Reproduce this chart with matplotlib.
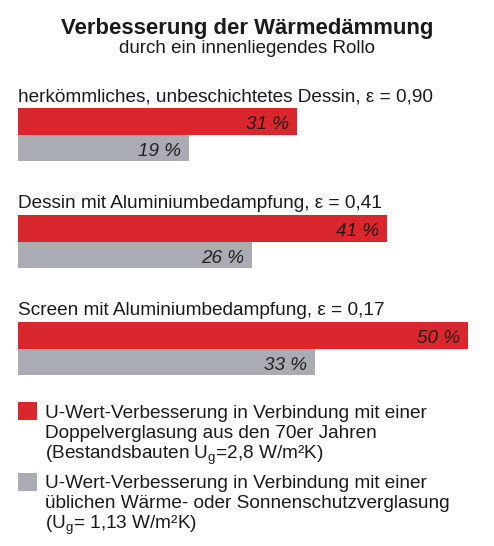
import matplotlib
matplotlib.use("Agg")
import matplotlib.pyplot as plt
from matplotlib.patches import Rectangle

plt.rcParams['font.family'] = ['Liberation Sans', 'DejaVu Sans']
plt.rcParams['mathtext.fontset'] = 'custom'
plt.rcParams['mathtext.rm'] = 'Liberation Sans'
plt.rcParams['mathtext.it'] = 'Liberation Sans:italic'

# data
categories = [
    'herkömmliches, unbeschichtetes Dessin, ε = 0,90',
    'Dessin mit Aluminiumbedampfung, ε = 0,41',
    'Screen mit Aluminiumbedampfung, ε = 0,17',
]
old_glazing = [31, 41, 50]   # Doppelverglasung 70er Jahre
new_glazing = [19, 26, 33]   # Wärme-/Sonnenschutzverglasung
legend_old = ['U-Wert-Verbesserung in Verbindung mit einer',
              'Doppelverglasung aus den 70er Jahren',
              r'(Bestandsbauten $\mathregular{U_g}$=2,8 W/m²K)']
legend_new = ['U-Wert-Verbesserung in Verbindung mit einer',
              'üblichen Wärme- oder Sonnenschutzverglasung',
              r'($\mathregular{U_g}$= 1,13 W/m²K)']

RED = '#d9272d'
GRAY = '#a9acb2'
TXT = '#1a1a1a'

W, H = 494, 546
fig = plt.figure(figsize=(W / 100, H / 100), dpi=100)


def ftext(x, y, s, **kw):
    # pixel coords from top-left
    fig.text(x / W, 1 - y / H, s, color=kw.pop('color', TXT), **kw)


ftext(247, 34, 'Verbesserung der Wärmedämmung', fontsize=15.9,
      fontweight='bold', ha='center', va='baseline')
ftext(247, 53, 'durch ein innenliegendes Rollo', fontsize=13.5,
      ha='center', va='baseline')

# bars: x in percent, y in pixels
px_per_pct = 9.0
ax = fig.add_axes([18 / W, 0, (W - 18) / W, 1])
ax.set_xlim(0, (W - 18) / px_per_pct)
ax.set_ylim(H, 0)
ax.axis('off')

group_top = [108, 215, 322]
bar_h = 26.7
for i, cat in enumerate(categories):
    top = group_top[i]
    ax.barh(top + bar_h / 2, old_glazing[i], height=bar_h, left=0,
            color=RED, linewidth=0)
    ax.barh(top + bar_h * 1.5, new_glazing[i], height=bar_h, left=0,
            color=GRAY, linewidth=0)
    ax.annotate(f'{old_glazing[i]} %', (old_glazing[i], top + 21),
                xytext=(-8, 0), textcoords='offset pixels', ha='right',
                va='baseline', fontsize=13.6, style='italic', color='#2a1414')
    ax.annotate(f'{new_glazing[i]} %', (new_glazing[i], top + bar_h + 21),
                xytext=(-8, 0), textcoords='offset pixels', ha='right',
                va='baseline', fontsize=13.6, style='italic', color='#222222')
    ftext(18, top - 7, cat, fontsize=13.7, ha='left', va='baseline')

# legend
for sq_y, col, lines, base in [(402, RED, legend_old, 418),
                               (473, GRAY, legend_new, 488)]:
    fig.add_artist(Rectangle((18 / W, 1 - (sq_y + 18) / H), 19 / W, 18 / H,
                             transform=fig.transFigure, color=col, lw=0))
    for k, line in enumerate(lines):
        ftext(45, base + k * 20.3, line, fontsize=13.65, ha='left',
              va='baseline')

fig.savefig('out.png', dpi=100, facecolor='white')
